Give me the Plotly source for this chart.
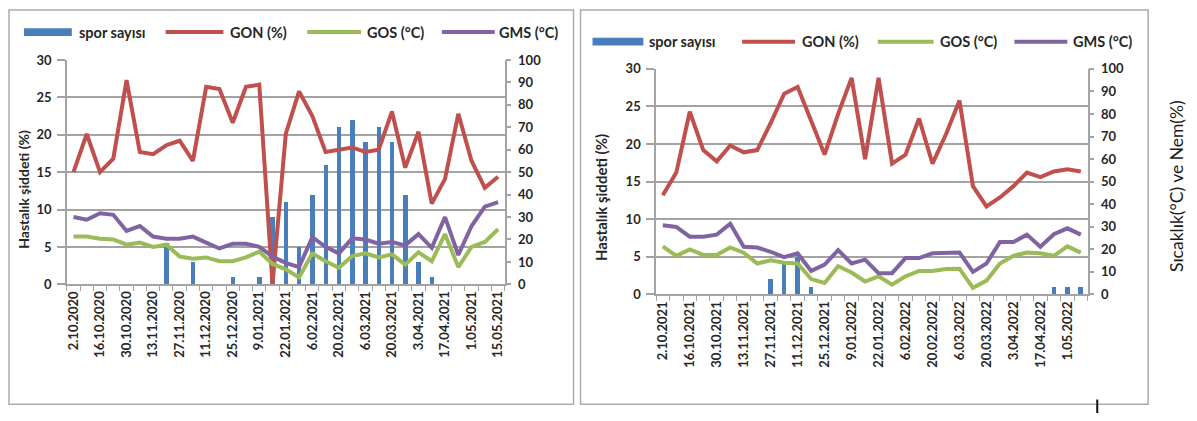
import plotly.graph_objects as go

W, H = 1197, 421

# ---- Panel A: 2020-2021 season (weekly observations) ----
labels_a = ["2.10.2020", "16.10.2020", "30.10.2020", "13.11.2020", "27.11.2020",
            "11.12.2020", "25.12.2020", "9.01.2021", "22.01.2021", "6.02.2021",
            "20.02.2021", "6.03.2021", "20.03.2021", "3.04.2021", "17.04.2021",
            "1.05.2021", "15.05.2021"]
spor_a = [0, 0, 0, 0, 0, 0, 0, 5.5, 0, 3, 0, 0, 1, 0, 1, 9, 11, 5, 12, 16, 21,
          22, 19, 21, 19, 12, 3, 1, 0, 0, 0, 0, 0]
gon_a = [50, 67, 50, 56, 91, 59, 58, 62, 64, 55, 88, 87, 72, 88, 89, 0, 67, 86,
         75, 59, 60, 61, 59, 60, 77, 52, 68, 36, 47, 76, 55, 43, 48]
gos_a = [21.3, 21.3, 20.3, 20, 17.7, 18.6, 16.7, 17.7, 12.4, 11.4, 12, 10.3,
         10.3, 12, 14.6, 9.1, 6.7, 3.1, 13.8, 10.3, 7.4, 12.6, 13.8, 12, 13.4,
         8.8, 14.3, 10.3, 22.4, 7.7, 16.7, 18.9, 24.6]
gms_a = [30, 28.8, 31.7, 31, 23.8, 26, 21.3, 20.3, 20.3, 21.3, 18.6, 16, 18.1,
         18.1, 16.7, 12.4, 9.6, 7.7, 21, 16.7, 13.8, 20.5, 20, 18.1, 18.9, 17.4,
         22.4, 16.3, 30, 13.1, 26, 34.6, 36.7]

# ---- Panel B: 2021-2022 season ----
labels_b = ["2.10.2021", "16.10.2021", "30.10.2021", "13.11.2021", "27.11.2021",
            "11.12.2021", "25.12.2021", "9.01.2022", "22.01.2022", "6.02.2022",
            "20.02.2022", "6.03.2022", "20.03.2022", "3.04.2022", "17.04.2022",
            "1.05.2022"]
spor_b = [0, 0, 0, 0, 0, 0, 0, 0, 2, 4, 5, 1, 0, 0, 0, 0, 0, 0, 0, 0, 0, 0, 0,
          0, 0, 0, 0, 0, 0, 1, 1, 1]
gon_b = [44, 54, 81, 64, 59, 66, 63, 64, 76, 89, 92, 77, 62, 80, 96, 60, 96, 58,
         62, 78, 58, 71, 86, 48, 39, 43, 48, 54, 52, 54.5, 55.5, 54.5]
gos_b = [21.3, 17.1, 19.9, 17.5, 17.5, 20.8, 18.5, 13.7, 15.1, 14, 13.7, 6.8,
         5.1, 12.5, 9.7, 5.7, 8, 4.3, 8, 10.4, 10.4, 11.3, 11.4, 2.9, 6.1, 13.7,
         17.1, 18.6, 18.2, 17.1, 21.3, 18.5]
gms_b = [30.7, 29.9, 25.6, 25.6, 26.5, 31.3, 21.1, 20.8, 18.9, 16.5, 18.2, 10.4,
         13.2, 19.6, 13.7, 15.4, 9.4, 9.4, 16.1, 16.1, 18.2, 18.2, 18.6, 10, 13.7,
         23.2, 23.2, 26.5, 21.1, 26.7, 29.3, 26.5]

series_names = ["spor sayısı", "GON (%)", "GOS (°C)", "GMS (°C)"]
C_BAR, C_GON, C_GOS, C_GMS = "#4a7ebb", "#c0504d", "#9bbb59", "#8064a2"
GRID = "#a3a3a3"
TXT = "#262626"
FONT = "Lato"


def px(x):
    return x / W


def py(y):
    return 1 - y / H


fig = go.Figure()


def add_panel(spor, gon, gos, gms, xa, ya_l, ya_r):
    idx = list(range(len(spor)))
    fig.add_trace(go.Bar(x=idx, y=spor, width=0.34, marker_color=C_BAR,
                         marker_line_width=0, xaxis=xa, yaxis=ya_l,
                         name=series_names[0], showlegend=False))
    for vals, col, nm in ((gon, C_GON, series_names[1]),
                          (gos, C_GOS, series_names[2]),
                          (gms, C_GMS, series_names[3])):
        fig.add_trace(go.Scatter(x=idx, y=vals, mode="lines",
                                 line=dict(color=col, width=4),
                                 xaxis=xa, yaxis=ya_r, name=nm,
                                 showlegend=False))


add_panel(spor_a, gon_a, gos_a, gms_a, "x", "y", "y2")
add_panel(spor_b, gon_b, gos_b, gms_b, "x2", "y3", "y4")

tickfont = dict(family=FONT, size=13, color=TXT, weight="bold")


def xaxis_cfg(n, labels, dom, anchor):
    return dict(domain=dom, anchor=anchor, range=[-0.5, n - 0.5],
                tickmode="array", tickvals=list(range(0, n, 2))[:len(labels)],
                ticktext=labels, tickangle=-90, ticks="", showgrid=False,
                zeroline=False, showline=True, linecolor=GRID, linewidth=1.5,
                tickfont=tickfont, fixedrange=True,
                minor=dict(tickmode="linear", tick0=-0.5, dtick=1,
                           ticks="outside", ticklen=5, tickwidth=1.3,
                           tickcolor=GRID, showgrid=False))


def yleft_cfg(dom, anchor):
    return dict(domain=dom, anchor=anchor, range=[0, 30], dtick=5,
                showgrid=True, gridcolor=GRID, gridwidth=1.6, zeroline=False,
                showline=True, linecolor=GRID, linewidth=1.5,
                ticks="outside", ticklen=8, tickcolor=GRID, tickwidth=1.5,
                ticklabelstandoff=3, tickfont=tickfont, fixedrange=True)


def yright_cfg(over, anchor):
    return dict(overlaying=over, anchor=anchor, side="right", range=[0, 100],
                dtick=10, showgrid=False, zeroline=False, showline=True,
                linecolor=GRID, linewidth=1.5, ticks="outside", ticklen=5,
                tickcolor=GRID, tickwidth=1.5, ticklabelstandoff=4,
                tickfont=tickfont, fixedrange=True)


dom_xa = [px(65), px(504)]
dom_ya = [py(287.3), py(54)]
dom_xb = [px(655.7), px(1088.3)]
dom_yb = [py(297.7), py(63.3)]

fig.update_layout(
    xaxis=xaxis_cfg(len(spor_a), labels_a, dom_xa, "y"),
    yaxis=yleft_cfg(dom_ya, "x"),
    yaxis2=yright_cfg("y", "x"),
    xaxis2=xaxis_cfg(len(spor_b), labels_b, dom_xb, "y3"),
    yaxis3=yleft_cfg(dom_yb, "x2"),
    yaxis4=yright_cfg("y3", "x2"),
)

shapes = []
annotations = []

# panel frames
for x0, x1 in ((7, 573), (580, 1149)):
    shapes.append(dict(type="rect", xref="paper", yref="paper",
                       x0=px(x0), x1=px(x1), y0=py(412), y1=py(2),
                       line=dict(color="#ababab", width=1.5), layer="below"))


def add_legend(y, items):
    # items: (kind, swatch_x0, swatch_x1, text_x, colour, text)
    for kind, sx0, sx1, tx, col, txt in items:
        if kind == "bar":
            shapes.append(dict(type="rect", xref="paper", yref="paper",
                               x0=px(sx0), x1=px(sx1), y0=py(y + 4),
                               y1=py(y - 4), fillcolor=col, line_width=0))
        else:
            shapes.append(dict(type="line", xref="paper", yref="paper",
                               x0=px(sx0), x1=px(sx1), y0=py(y), y1=py(y),
                               line=dict(color=col, width=4)))
        annotations.append(dict(xref="paper", yref="paper", x=px(tx), y=py(y),
                                xanchor="left", yanchor="middle", text=txt,
                                showarrow=False,
                                font=dict(family=FONT, size=14.5, color=TXT,
                                          weight="bold")))


add_legend(25, [("bar", 22, 70, 75, C_BAR, series_names[0]),
                ("line", 164, 222, 227, C_GON, series_names[1]),
                ("line", 306, 360, 364, C_GOS, series_names[2]),
                ("line", 441, 494, 496, C_GMS, series_names[3])])
add_legend(35, [("bar", 592, 643, 647, C_BAR, series_names[0]),
                ("line", 742, 795, 800, C_GON, series_names[1]),
                ("line", 878, 934, 938, C_GOS, series_names[2]),
                ("line", 1015, 1068, 1072, C_GMS, series_names[3])])

# axis titles
for x, y, sz in ((22, 188, 14), (600, 197, 15)):
    annotations.append(dict(xref="paper", yref="paper", x=px(x), y=py(y),
                            xanchor="center", yanchor="middle", textangle=-90,
                            text="Hastalık şiddeti (%)", showarrow=False,
                            font=dict(family=FONT, size=sz, color=TXT,
                                      weight="bold")))
annotations.append(dict(xref="paper", yref="paper", x=px(1178), y=py(185),
                        xanchor="center", yanchor="middle", textangle=-90,
                        text="Sıcaklık(°C) ve Nem(%)", showarrow=False,
                        font=dict(family=FONT, size=17.5, color="#1a1a1a")))

# small marker stroke below the right panel
shapes.append(dict(type="line", xref="paper", yref="paper",
                   x0=px(1098), x1=px(1098), y0=py(407), y1=py(421),
                   line=dict(color="#111111", width=2)))

fig.update_layout(
    width=W, height=H, margin=dict(l=0, r=0, t=0, b=0),
    paper_bgcolor="white", plot_bgcolor="white",
    font=dict(family=FONT, color=TXT),
    showlegend=False, bargap=0,
    shapes=shapes, annotations=annotations,
)

fig.write_html("out.html")
